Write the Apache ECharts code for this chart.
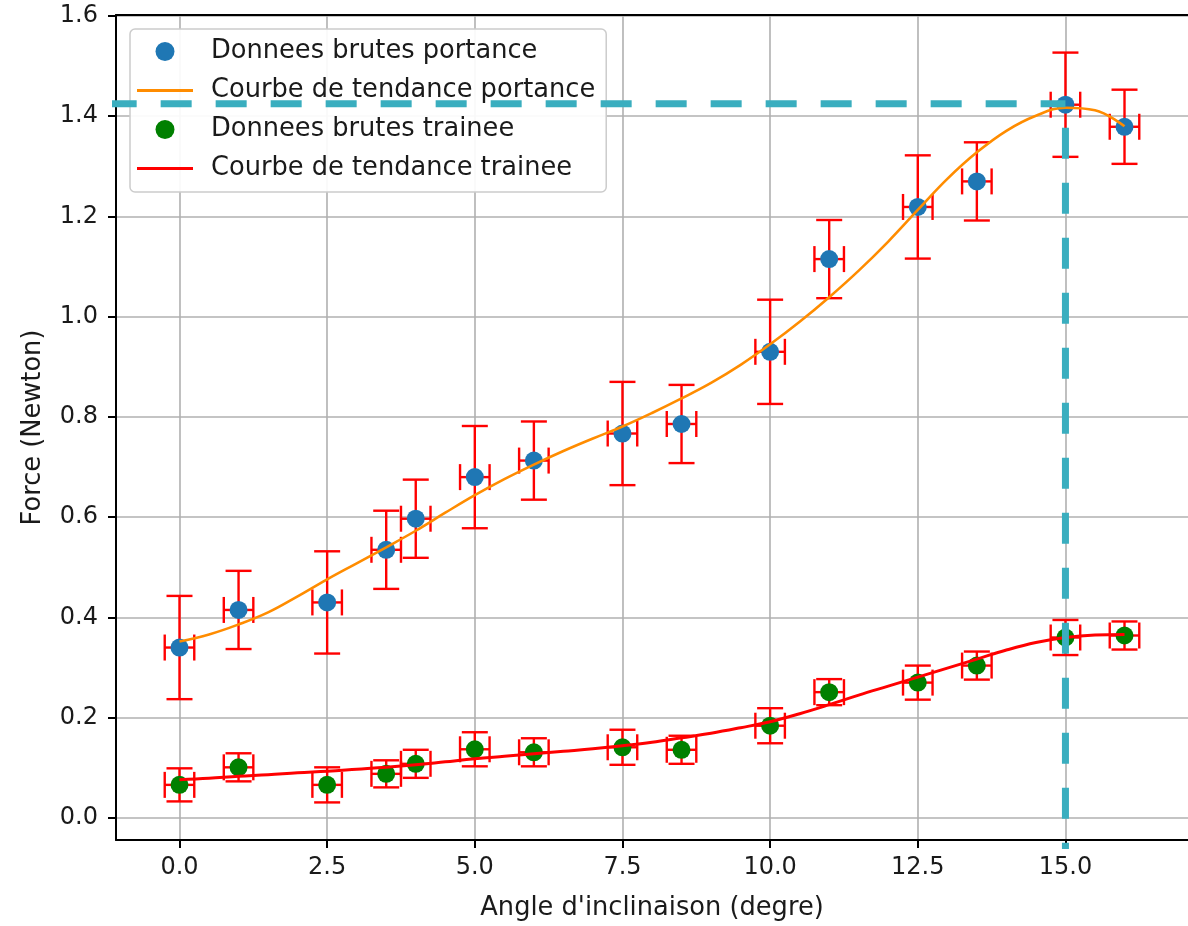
<!DOCTYPE html>
<html>
<head>
<meta charset="utf-8">
<script src="https://cdn.jsdelivr.net/npm/echarts@6/dist/echarts.min.js"></script>
<style>
html,body{margin:0;padding:0;background:#fff;}
#chart{width:1188px;height:926px;}
</style>
</head>
<body>
<div id="chart"></div>
<script>
// ---- data ----
const angles = [0, 1, 2.5, 3.5, 4, 5, 6, 7.5, 8.5, 10, 11, 12.5, 13.5, 15, 16];
const portance = [0.34, 0.415, 0.43, 0.535, 0.597, 0.68, 0.713, 0.767, 0.786, 0.93, 1.115, 1.219, 1.27, 1.423, 1.379];
const portanceErr = [0.103, 0.078, 0.102, 0.078, 0.078, 0.102, 0.078, 0.103, 0.078, 0.104, 0.078, 0.103, 0.078, 0.104, 0.074];
const trainee = [0.066, 0.101, 0.066, 0.088, 0.108, 0.137, 0.131, 0.141, 0.136, 0.184, 0.251, 0.27, 0.304, 0.36, 0.364];
const traineeErr = [0.033, 0.028, 0.035, 0.027, 0.028, 0.034, 0.028, 0.035, 0.028, 0.035, 0.026, 0.034, 0.028, 0.035, 0.028];
const angleErr = [0.25, 0.25, 0.25, 0.25, 0.25, 0.25, 0.25, 0.25, 0.25, 0.25, 0.25, 0.25, 0.25, 0.25, 0.25];

const trendX = [0, 0.5, 1, 1.5, 2, 2.5, 3, 3.5, 4, 4.5, 5, 5.5, 6, 6.5, 7, 7.5, 8, 8.5, 9, 9.5, 10, 10.5, 11, 11.5, 12, 12.5, 13, 13.5, 14, 14.5, 15, 15.5, 16];
const trendPortance = [0.352, 0.366, 0.386, 0.410, 0.442, 0.476, 0.508, 0.540, 0.573, 0.609, 0.644, 0.676, 0.705, 0.732, 0.757, 0.781, 0.808, 0.837, 0.868, 0.904, 0.945, 0.990, 1.039, 1.092, 1.150, 1.213, 1.275, 1.328, 1.371, 1.401, 1.417, 1.412, 1.380];
const trendTrainee = [0.076, 0.079, 0.083, 0.086, 0.090, 0.093, 0.097, 0.101, 0.106, 0.112, 0.118, 0.123, 0.128, 0.133, 0.138, 0.144, 0.151, 0.160, 0.169, 0.180, 0.192, 0.208, 0.226, 0.245, 0.263, 0.281, 0.299, 0.317, 0.335, 0.350, 0.360, 0.365, 0.366];

const guideH = [[-1.25, 1.425], [15, 1.425]];
const guideV = [[15, 1.425], [15, -0.062]];

const xTicks = [0, 2.5, 5, 7.5, 10, 12.5, 15];
const yTicks = [0, 0.2, 0.4, 0.6, 0.8, 1.0, 1.2, 1.4, 1.6];

const names = ['Donnees brutes portance', 'Courbe de tendance portance', 'Donnees brutes trainee', 'Courbe de tendance trainee'];
const xName = "Angle d'inclinaison (degre)";
const yName = 'Force (Newton)';

// ---- build ----
const zip = (a, b) => a.map((v, i) => [v, b[i]]);
const errData = (ys, ye) => angles.map((x, i) => [x, ys[i], angleErr[i], ye[i]]);

const FONT = 'DejaVu Sans';
const TXT = '#1a1a1a';
const CAP = 13;
const LINE_ICON = 'path://M0 0H100V5H0Z';

function renderErr(params, api) {
  const x = api.value(0), y = api.value(1), xe = api.value(2), ye = api.value(3);
  const t = api.coord([x, y + ye]), b = api.coord([x, y - ye]);
  const l = api.coord([x - xe, y]), r = api.coord([x + xe, y]);
  const st = {stroke: '#ff0000', lineWidth: 2.4, fill: null};
  const seg = (x1, y1, x2, y2) => ({type: 'line', shape: {x1, y1, x2, y2}, style: st});
  return {
    type: 'group',
    children: [
      seg(t[0], t[1], b[0], b[1]),
      seg(t[0] - CAP, t[1], t[0] + CAP, t[1]),
      seg(b[0] - CAP, b[1], b[0] + CAP, b[1]),
      seg(l[0], l[1], r[0], r[1]),
      seg(l[0], l[1] - CAP, l[0], l[1] + CAP),
      seg(r[0], r[1] - CAP, r[0], r[1] + CAP)
    ]
  };
}

const chart = echarts.init(document.getElementById('chart'), null, {renderer: 'canvas'});
const axisCommon = {
  axisLine: {show: true, onZero: false, lineStyle: {color: '#000', width: 2}},
  splitLine: {show: true, lineStyle: {color: '#b0b0b0', width: 1.6}},
  axisTick: {show: true, length: 8, inside: false, lineStyle: {color: '#000', width: 2}}
};
chart.setOption({
  animation: false,
  backgroundColor: '#fff',
  grid: {left: 116, top: 15, right: -6, bottom: 83, containLabel: false},
  xAxis: [{
    type: 'value', min: -1.075, max: 17.075,
    name: xName, nameLocation: 'middle', nameGap: 55,
    nameTextStyle: {fontFamily: FONT, fontSize: 25.7, color: TXT},
    ...axisCommon,
    axisTick: {...axisCommon.axisTick, customValues: xTicks},
    axisLabel: {customValues: xTicks, fontFamily: FONT, fontSize: 24, color: TXT, margin: 16,
      formatter: v => v.toFixed(1)}
  }, {
    type: 'value', position: 'top', min: -1.075, max: 17.075,
    axisLine: {show: true, onZero: false, lineStyle: {color: '#000', width: 2}},
    axisTick: {show: false}, axisLabel: {show: false}, splitLine: {show: false}
  }],
  yAxis: {
    type: 'value', min: -0.044, max: 1.602,
    name: yName, nameLocation: 'middle', nameGap: 70, nameRotate: 90,
    nameTextStyle: {fontFamily: FONT, fontSize: 25.7, color: TXT},
    ...axisCommon,
    axisTick: {...axisCommon.axisTick, customValues: yTicks},
    axisLabel: {customValues: yTicks, fontFamily: FONT, fontSize: 24, color: TXT, margin: 18,
      formatter: v => v.toFixed(1)}
  },
  legend: {
    orient: 'vertical', left: 130, top: 29,
    data: [
      {name: names[0], icon: 'circle'},
      {name: names[1], icon: LINE_ICON},
      {name: names[2], icon: 'circle'},
      {name: names[3], icon: LINE_ICON}
    ],
    itemWidth: 56, itemHeight: 19, itemGap: 12,
    padding: [9, 11, 10, 7],
    backgroundColor: 'rgba(255,255,255,0.92)',
    borderColor: '#cccccc', borderWidth: 1.5, borderRadius: 5,
    textStyle: {fontFamily: FONT, fontSize: 25.7, color: TXT, lineHeight: 27, padding: [0, 0, 0, 13]}
  },
  series: [
    {type: 'custom', name: 'errP', renderItem: renderErr, data: errData(portance, portanceErr), z: 2, silent: true},
    {type: 'custom', name: 'errT', renderItem: renderErr, data: errData(trainee, traineeErr), z: 2, silent: true},
    {type: 'scatter', name: names[0], data: zip(angles, portance), symbol: 'circle', symbolSize: 18,
      itemStyle: {color: '#1f77b4', opacity: 1}, z: 3},
    {type: 'line', name: names[1], data: zip(trendX, trendPortance), smooth: 0.4, symbol: 'none',
      lineStyle: {color: '#ff8c00', width: 2.6}, itemStyle: {color: '#ff8c00'}, z: 4},
    {type: 'scatter', name: names[2], data: zip(angles, trainee), symbol: 'circle', symbolSize: 18,
      itemStyle: {color: '#008000', opacity: 1}, z: 3},
    {type: 'line', name: names[3], data: zip(trendX, trendTrainee), smooth: 0.4, symbol: 'none',
      lineStyle: {color: '#ff0000', width: 3}, itemStyle: {color: '#ff0000'}, z: 4},
    {type: 'line', name: 'guideH', data: guideH, symbol: 'none', clip: false, silent: true,
      lineStyle: {color: '#3aaebf', width: 7, type: [31, 24], dashOffset: 0, cap: 'butt'}, z: 5},
    {type: 'line', name: 'guideV', data: guideV, symbol: 'none', clip: false, silent: true,
      lineStyle: {color: '#3aaebf', width: 7, type: [31, 24], dashOffset: 31, cap: 'butt'}, z: 5}
  ]
});
</script>
</body>
</html>
